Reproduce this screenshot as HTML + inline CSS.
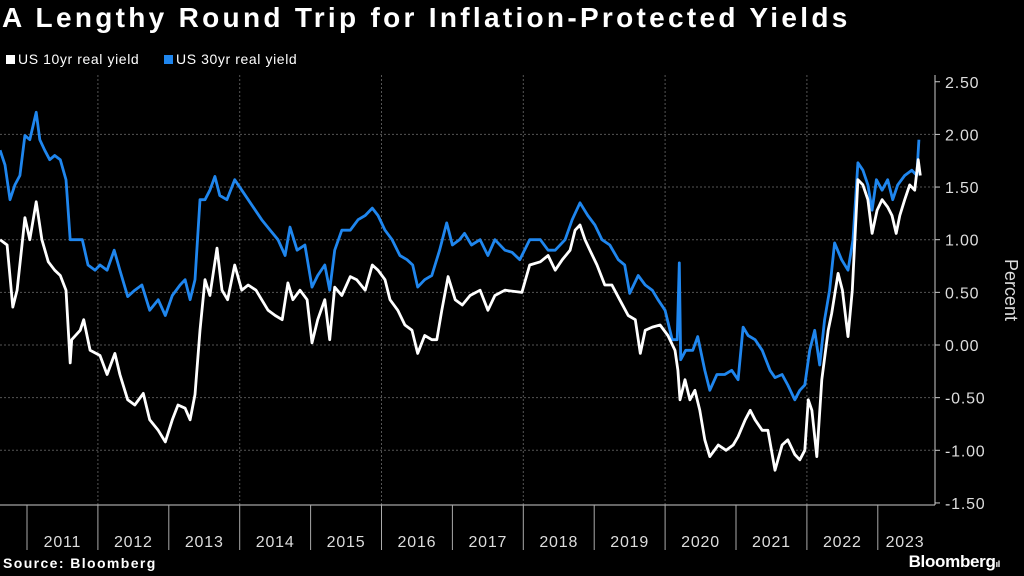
<!DOCTYPE html>
<html><head><meta charset="utf-8">
<style>
html,body{margin:0;padding:0;background:#000;}
body{width:1024px;height:576px;overflow:hidden;position:relative;font-family:"Liberation Sans",sans-serif;color:#fff;}
#title{position:absolute;left:2px;top:2px;font-size:28px;font-weight:bold;letter-spacing:3.3px;white-space:nowrap;}
.leg{position:absolute;top:51px;font-size:14px;letter-spacing:0.6px;display:flex;align-items:center;white-space:nowrap;}
.sw{width:9px;height:9px;margin-right:3px;}
#src{position:absolute;left:3px;top:555px;font-size:14px;font-weight:bold;letter-spacing:1.4px;}
#logo{position:absolute;right:24px;top:552px;font-size:17px;font-weight:bold;letter-spacing:-0.3px;}
</style></head><body>
<div id="title">A Lengthy Round Trip for Inflation-Protected Yields</div>
<div class="leg" style="left:6px"><div class="sw" style="background:#fff"></div>US 10yr real yield</div>
<div class="leg" style="left:164px"><div class="sw" style="background:#1f86ee"></div>US 30yr real yield</div>
<svg id="chart" width="1024" height="576" style="position:absolute;left:0;top:0"></svg>
<div id="src">Source: Bloomberg</div>
<div id="logo">Bloomberg<span style="font-size:9px">ıl</span></div>
<script>
const yTicks=[2.5,2.0,1.5,1.0,0.5,0.0,-0.5,-1.0,-1.5];
const yTickLabels=["2.50","2.00","1.50","1.00","0.50","0.00","-0.50","-1.00","-1.50"];
const years=[2011,2012,2013,2014,2015,2016,2017,2018,2019,2020,2021,2022,2023];
const gridYears=[2012,2014,2016,2018,2020,2022];
const t10=[2010.62,2010.72,2010.80,2010.86,2010.93,2010.97,2011.04,2011.13,2011.21,2011.30,2011.39,2011.47,2011.55,2011.61,2011.63,2011.75,2011.80,2011.89,
2012.03,2012.13,2012.24,2012.31,2012.42,2012.52,2012.64,2012.73,2012.85,2012.95,
2013.05,2013.13,2013.23,2013.30,2013.37,2013.44,2013.51,2013.58,2013.68,2013.75,2013.83,2013.93,
2014.03,2014.12,2014.23,2014.31,2014.40,2014.50,2014.60,2014.68,2014.75,2014.85,2014.95,
2015.02,2015.10,2015.20,2015.27,2015.34,2015.44,2015.56,2015.65,2015.77,2015.87,2015.95,
2016.05,2016.12,2016.23,2016.33,2016.43,2016.51,2016.61,2016.71,2016.78,2016.85,2016.94,
2017.04,2017.14,2017.25,2017.39,2017.50,2017.60,2017.74,2017.98,
2018.09,2018.24,2018.35,2018.45,2018.55,2018.66,2018.73,2018.80,2018.87,2018.94,
2019.04,2019.15,2019.25,2019.36,2019.48,2019.58,2019.65,2019.72,2019.82,2019.93,
2020.04,2020.14,2020.18,2020.21,2020.28,2020.35,2020.42,2020.49,2020.56,2020.63,2020.75,2020.86,2020.96,
2021.03,2021.13,2021.20,2021.27,2021.37,2021.45,2021.55,2021.65,2021.73,2021.83,2021.90,2021.97,
2022.02,2022.07,2022.14,2022.21,2022.30,2022.35,2022.44,2022.50,2022.58,2022.64,2022.72,2022.79,2022.86,2022.92,2022.99,
2023.06,2023.14,2023.20,2023.26,2023.31,2023.38,2023.45,2023.52,2023.57,2023.60];
const v10=[1.00,0.95,0.36,0.52,0.95,1.21,1.00,1.36,1.00,0.79,0.71,0.66,0.52,-0.17,0.05,0.14,0.24,-0.05,
-0.10,-0.28,-0.08,-0.28,-0.52,-0.57,-0.46,-0.71,-0.81,-0.92,
-0.71,-0.57,-0.60,-0.71,-0.47,0.14,0.62,0.47,0.92,0.52,0.43,0.76,
0.52,0.57,0.52,0.43,0.33,0.28,0.24,0.59,0.43,0.52,0.43,
0.02,0.24,0.43,0.05,0.55,0.47,0.65,0.62,0.52,0.76,0.71,
0.62,0.43,0.33,0.19,0.14,-0.08,0.09,0.05,0.05,0.33,0.65,
0.43,0.38,0.47,0.52,0.33,0.47,0.52,0.50,
0.76,0.79,0.85,0.71,0.81,0.90,1.09,1.14,1.00,0.90,
0.76,0.57,0.57,0.43,0.28,0.24,-0.08,0.14,0.17,0.19,
0.09,-0.05,-0.24,-0.52,-0.33,-0.52,-0.43,-0.62,-0.90,-1.06,-0.95,-1.00,-0.95,
-0.87,-0.71,-0.62,-0.71,-0.81,-0.81,-1.19,-0.95,-0.90,-1.04,-1.09,-1.00,
-0.52,-0.62,-1.06,-0.33,0.14,0.30,0.68,0.52,0.08,0.52,1.57,1.52,1.38,1.06,1.28,
1.38,1.31,1.23,1.06,1.23,1.38,1.52,1.47,1.76,1.61];
const t30=[2010.62,2010.69,2010.76,2010.83,2010.90,2010.97,2011.04,2011.13,2011.18,2011.25,2011.32,2011.39,2011.47,2011.55,2011.61,2011.68,2011.78,2011.86,2011.96,
2012.03,2012.13,2012.23,2012.31,2012.42,2012.52,2012.62,2012.73,2012.85,2012.95,
2013.05,2013.16,2013.23,2013.30,2013.37,2013.44,2013.51,2013.58,2013.65,2013.72,2013.82,2013.93,
2014.03,2014.12,2014.22,2014.31,2014.43,2014.54,2014.64,2014.71,2014.81,2014.92,
2015.02,2015.10,2015.20,2015.27,2015.34,2015.44,2015.56,2015.67,2015.77,2015.87,2015.95,
2016.05,2016.15,2016.26,2016.36,2016.44,2016.51,2016.61,2016.71,2016.82,2016.92,
2017.00,2017.10,2017.17,2017.27,2017.39,2017.50,2017.60,2017.74,2017.84,2017.95,
2018.09,2018.24,2018.35,2018.45,2018.59,2018.69,2018.80,2018.91,
2019.01,2019.11,2019.22,2019.34,2019.43,2019.50,2019.62,2019.72,2019.82,2019.90,
2020.00,2020.10,2020.17,2020.20,2020.22,2020.29,2020.39,2020.46,2020.56,2020.63,2020.73,2020.84,2020.94,
2021.03,2021.10,2021.17,2021.27,2021.37,2021.48,2021.55,2021.65,2021.73,2021.83,2021.90,2021.97,
2022.04,2022.11,2022.18,2022.25,2022.32,2022.39,2022.49,2022.58,2022.65,2022.72,2022.79,2022.86,2022.92,2022.98,
2023.06,2023.14,2023.21,2023.28,2023.38,2023.48,2023.55,2023.58];
const v30=[1.85,1.71,1.38,1.52,1.61,1.99,1.95,2.21,1.95,1.85,1.76,1.80,1.76,1.57,1.00,1.00,1.00,0.76,0.71,
0.76,0.71,0.90,0.71,0.46,0.52,0.57,0.33,0.43,0.28,
0.47,0.57,0.62,0.43,0.62,1.38,1.38,1.47,1.60,1.42,1.38,1.57,
1.47,1.38,1.28,1.19,1.09,1.00,0.85,1.12,0.90,0.95,
0.55,0.66,0.76,0.52,0.90,1.09,1.09,1.19,1.23,1.30,1.23,
1.09,1.00,0.85,0.81,0.76,0.55,0.62,0.66,0.90,1.16,
0.95,1.00,1.06,0.95,1.00,0.85,1.00,0.90,0.88,0.81,
1.00,1.00,0.90,0.90,1.00,1.19,1.35,1.23,
1.14,1.00,0.95,0.81,0.76,0.49,0.66,0.57,0.52,0.43,
0.33,0.05,0.05,0.78,-0.14,-0.05,-0.05,0.08,-0.24,-0.43,-0.28,-0.28,-0.24,
-0.33,0.17,0.09,0.05,-0.05,-0.24,-0.31,-0.28,-0.38,-0.52,-0.43,-0.38,
-0.05,0.14,-0.19,0.24,0.52,0.97,0.81,0.71,1.00,1.73,1.66,1.52,1.28,1.57,
1.47,1.57,1.38,1.52,1.61,1.66,1.61,1.95];

const NS="http://www.w3.org/2000/svg";
const svg=document.getElementById('chart');
const X=t=>27+(t-2011)*70.9;
const Y=v=>345-v*105.3;
const PL=0,PR=935,PT=75,PB=505;
function mk(tag,attrs){const e=document.createElementNS(NS,tag);for(const k in attrs)e.setAttribute(k,attrs[k]);svg.appendChild(e);return e;}
yTicks.forEach((v,i)=>{
  if(v<=2.0&&v>=-1.0){const g=mk('line',{x1:PL,x2:PR,y1:Y(v),y2:Y(v),stroke:'#555','stroke-width':1,'stroke-dasharray':'2,2'});
  
  }
  const tk=mk('line',{x1:PR,x2:PR+5,y1:Y(v),y2:Y(v),stroke:'#ccc'});
  
  
  const t=mk('text',{x:PR+10,y:Y(v)+6,fill:'#ddd','font-size':16,'letter-spacing':0.8,'font-family':'Liberation Sans, sans-serif'});
  t.textContent=yTickLabels[i];
  
  
});
gridYears.forEach(y=>{
  const g=mk('line',{x1:X(y),x2:X(y),y1:PT,y2:PB,stroke:'#555','stroke-width':1,'stroke-dasharray':'2,2'});
  
  
});
const ax=mk('line',{x1:PR,x2:PR,y1:PT,y2:PB,stroke:'#ccc'});


const xa=mk('line',{x1:0,x2:PR,y1:PB,y2:PB,stroke:'#ccc'});


years.forEach(y=>{
  const tk=mk('line',{x1:X(y),x2:X(y),y1:PB,y2:550,stroke:'#aaa'});
  
  
  const cx=Math.min(X(y+0.5),905);
  const t=mk('text',{x:cx,y:547,fill:'#ddd','font-size':16,'letter-spacing':0.8,'text-anchor':'middle','font-family':'Liberation Sans, sans-serif'});
  t.textContent=y;
  
  
});
const pt=mk('text',{transform:'translate(1005,290) rotate(90)',fill:'#ddd','font-size':18,'text-anchor':'middle','font-family':'Liberation Sans, sans-serif'});
pt.textContent='Percent';


function line(ts,vs,col,name){
  const d=ts.map((t,i)=>(i?'L':'M')+X(t).toFixed(1)+','+Y(vs[i]).toFixed(1)).join('');
  const p=mk('path',{d:d,fill:'none',stroke:col,'stroke-width':2.8,'stroke-linejoin':'round'});
  
  
}
line(t30,v30,'#1f86ee','series-30yr-line');
line(t10,v10,'#ffffff','series-10yr-line');
</script>
</body></html>
